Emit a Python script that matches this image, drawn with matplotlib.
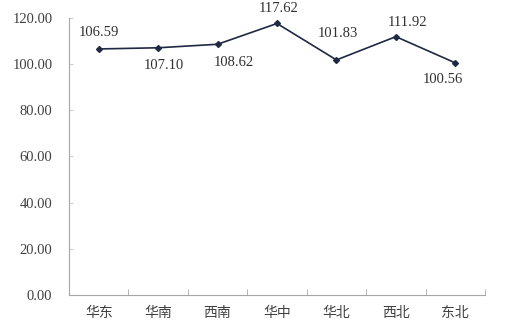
import matplotlib.pyplot as plt
from matplotlib.ticker import FormatStrFormatter

plt.rcParams['font.family'] = ['Liberation Serif', 'Noto Sans CJK SC', 'DejaVu Sans']

regions = ['华东', '华南', '西南', '华中', '华北', '西北', '东北']
values = [106.59, 107.10, 108.62, 117.62, 101.83, 111.92, 100.56]
# label offsets in points (dx, dy) relative to each point
label_offsets = [(0, 12), (4, -13), (12, -13), (1, 11), (1, 19), (8, 10), (-9, -12)]

fig = plt.figure(figsize=(5.06, 3.26), dpi=100)
ax = fig.add_axes([0.1364, 0.0951, 0.8221, 0.8497])

x = list(range(len(regions)))
ax.plot(x, values, color='#1f2944', linewidth=1.2, marker='D', markersize=3)

for xi, v, (dx, dy) in zip(x, values, label_offsets):
    ax.annotate('%.2f' % v, (xi, v), xytext=(dx, dy), textcoords='offset points',
                ha='center', va='center', fontsize=10.5, color='#303030')

ax.set_xlim(-0.5, len(regions) - 0.5)
ax.set_ylim(0, 120)
ax.set_yticks(range(0, 121, 20))
ax.yaxis.set_major_formatter(FormatStrFormatter('%.2f'))
ax.set_xticks(x)
ax.set_xticklabels(regions, fontfamily=['Noto Sans CJK SC'], fontsize=10)
ax.set_xticks([i - 0.5 for i in range(len(regions) + 1)], minor=True)

for s in ['top', 'right']:
    ax.spines[s].set_visible(False)
for s in ['left', 'bottom']:
    ax.spines[s].set_color('#a6a6a6')

ax.tick_params(axis='x', which='major', length=0, pad=8, colors='#404040')
ax.tick_params(axis='x', which='minor', length=4, direction='in', color='#a6a6a6')
ax.tick_params(axis='y', length=3, direction='in', color='#d0d0d0', colors='#404040',
               labelsize=10.5, pad=12)

fig.savefig('out.png')
